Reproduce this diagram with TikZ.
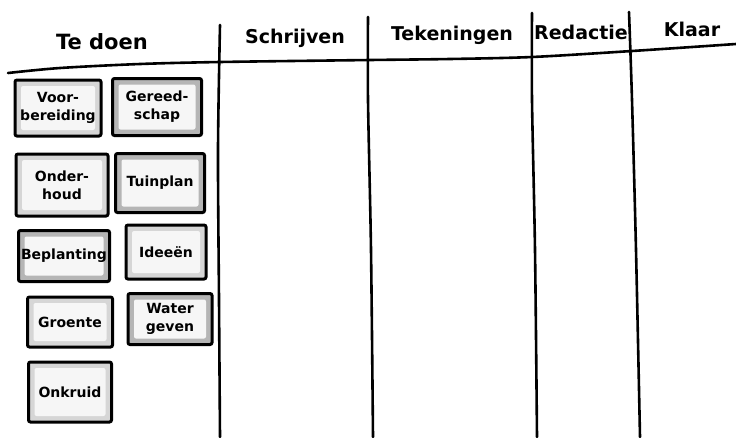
\documentclass[tikz,border=0pt]{standalone}
\usepackage{fontspec}
\setmainfont{DejaVu Sans}
\begin{document}
\begin{tikzpicture}[x=1pt,y=-1pt,
  boardline/.style={line width=2.6pt, line cap=round, line join=round},
  header/.style={font=\fontsize{19}{21}\selectfont\bfseries, inner sep=0pt},
  card/.style={draw=black, line width=3pt, rounded corners=2pt, fill=gray!32,
    font=\fontsize{14}{18}\selectfont\bfseries, align=center, inner sep=0pt,
    path picture={\fill[gray!7] ([shift={(6pt,-6pt)}]path picture bounding box.north west) rectangle ([shift={(-6pt,6pt)}]path picture bounding box.south east);}},
  darkcard/.style={card, fill=gray!58}]
\useasboundingbox (0,0) rectangle (736,437);
% board lines
\draw[boardline] plot[smooth] coordinates {(8,73) (60,68) (140,64) (220,62) (370,60) (450,59) (532,57) (632,51) (736,44)};
\draw[boardline] plot[smooth] coordinates {(220,25) (218,150) (219,300) (220,437)};
\draw[boardline] plot[smooth] coordinates {(368,17) (368,100) (371,250) (373,437)};
\draw[boardline] plot[smooth] coordinates {(532,13) (532,100) (535,250) (537,437)};
\draw[boardline] plot[smooth] coordinates {(629,12) (632,100) (636,250) (640,437)};
% headers
\node[header, font=\fontsize{21}{23}\selectfont\bfseries] (h1) at (102,42) {Te doen};
\node[header] (h2) at (295,38) {Schrijven};
\node[header] (h3) at (452,35) {Tekeningen};
\node[header] (h4) at (581,32) {Redactie};
\node[header] (h5) at (692,29) {Klaar};
% cards
\node[card, minimum width=86pt, minimum height=56pt] (c1) at (58,108) {Voor-\\bereiding};
\node[darkcard, minimum width=89pt, minimum height=57pt] (c2) at (157,107) {Gereed-\\schap};
\node[card, minimum width=92pt, minimum height=62pt] (c3) at (62,185) {Onder-\\houd};
\node[darkcard, minimum width=89pt, minimum height=59pt] (c4) at (160,183) {Tuinplan};
\node[darkcard, minimum width=91pt, minimum height=51pt] (c5) at (64,256) {Beplanting};
\node[card, minimum width=80pt, minimum height=54pt] (c6) at (166,252) {Ideeën};
\node[card, minimum width=85pt, minimum height=50pt] (c7) at (70,322) {Groente};
\node[darkcard, minimum width=84pt, minimum height=51pt] (c8) at (170,319) {Water\\geven};
\node[card, minimum width=83pt, minimum height=60pt] (c9) at (70,392) {Onkruid};
\end{tikzpicture}
\end{document}
